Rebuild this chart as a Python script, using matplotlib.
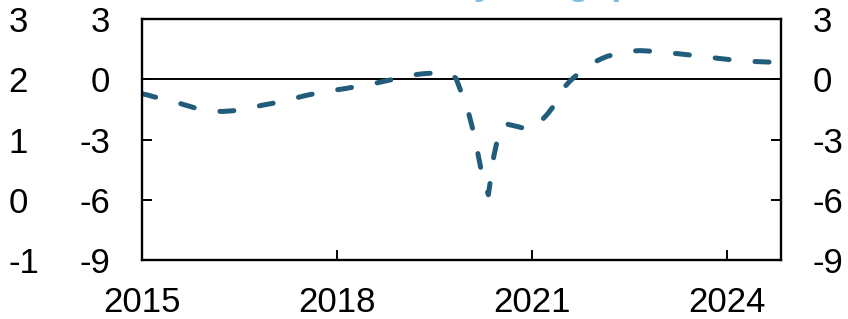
import numpy as np
import pandas as pd
import matplotlib

matplotlib.use("Agg")
import matplotlib.pyplot as plt

plt.rcParams["font.family"] = ["Liberation Sans", "DejaVu Sans"]
plt.rcParams["axes.unicode_minus"] = False

# monthly gap, Jan 2015 .. Nov 2024 (per cent)
gap = [
    -0.72, -0.78, -0.85, -0.92, -0.98, -1.05, -1.12, -1.20, -1.28, -1.36, -1.44, -1.50,  # 2015
    -1.54, -1.57, -1.59, -1.60, -1.58, -1.56, -1.52, -1.47, -1.42, -1.36, -1.30, -1.25,  # 2016
    -1.20, -1.14, -1.07, -1.01, -0.95, -0.89, -0.82, -0.76, -0.71, -0.66, -0.61, -0.56,  # 2017
    -0.52, -0.48, -0.44, -0.39, -0.35, -0.30, -0.25, -0.20, -0.14, -0.08, -0.02, 0.03,   # 2018
    0.10, 0.16, 0.21, 0.25, 0.28, 0.30, 0.31, 0.32, 0.31, 0.27, 0.05, -0.65,             # 2019
    -1.35, -2.40, -3.60, -5.00, -5.75, -3.80, -2.60, -2.20, -2.27, -2.33, -2.40, -2.47,  # 2020
    -2.45, -2.30, -2.00, -1.70, -1.35, -0.90, -0.40, -0.10, 0.15, 0.35, 0.55, 0.75,      # 2021
    0.92, 1.05, 1.15, 1.22, 1.30, 1.35, 1.39, 1.42, 1.43, 1.42, 1.40, 1.37,              # 2022
    1.34, 1.32, 1.30, 1.28, 1.25, 1.22, 1.19, 1.15, 1.12, 1.09, 1.06, 1.03,              # 2023
    1.00, 0.97, 0.94, 0.91, 0.90, 0.89, 0.88, 0.87, 0.86, 0.85, 0.83,                    # 2024
]
months = pd.date_range("2015-01-01", periods=len(gap), freq="MS")

inner_ticks = [3, 0, -3, -6, -9]
outer_ticks = [3, 2, 1, 0, -1]
year_ticks = [2015, 2018, 2021, 2024]
title = "Activity vs. gap"

LINE = "#215c7b"
TITLE_C = "#7dbcde"
FS = 25

fig = plt.figure(figsize=(8.48, 3.19), dpi=100)
pos = [0.1675, 0.185, 0.7535, 0.755]

# outer left scale (no frame)
ax2 = fig.add_axes(pos, frameon=False)
ax2.set_ylim(-1, 3)
ax2.set_yticks(outer_ticks)
ax2.set_xticks([])
ax2.tick_params(axis="y", length=0, pad=96, labelsize=FS)
for lab in ax2.get_yticklabels():
    lab.set_horizontalalignment("left")

ax = fig.add_axes(pos)
ax.patch.set_alpha(0)
ax.plot(months, gap, color=LINE, lw=3.6, dashes=(2.8, 5.2),
        dash_capstyle="round", solid_capstyle="round")
ax.axhline(0, color="black", lw=1.4, zorder=1)

ax.set_ylim(-9, 3)
ax.set_yticks(inner_ticks)
ax.set_xlim(months[0], months[-1])
ax.set_xticks([pd.Timestamp(f"{y}-01-01") for y in year_ticks])
ax.set_xticklabels([str(y) for y in year_ticks])
ax.tick_params(axis="both", direction="in", length=7, width=1.4,
               labelsize=FS, right=True, labelright=True)
ax.tick_params(axis="y", pad=23)
ax.tick_params(axis="x", pad=19)
for s in ax.spines.values():
    s.set_linewidth(1.7)

fig.text(0.585, 1.019, title, color=TITLE_C, fontsize=27, fontweight="bold",
         ha="center", va="baseline")

fig.savefig("out.png", dpi=100)
